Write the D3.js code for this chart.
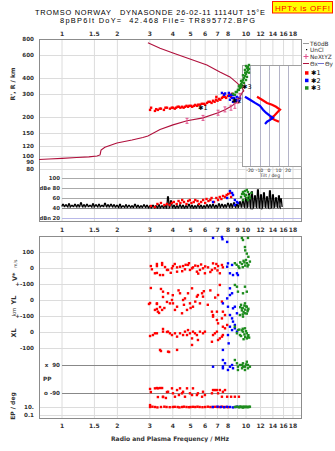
<!DOCTYPE html>
<html><head><meta charset="utf-8">
<script src="https://cdn.jsdelivr.net/npm/d3@7"></script>
<style>body{margin:0;background:#fff}svg{display:block}text{font-family:"DejaVu Sans",sans-serif;white-space:pre}</style>
</head><body><svg id="c" width="335" height="451"></svg>
<script>
// ---------------- DATA ----------------
const freqTicksTop = [1,1.5,2,3,4,5,6,7,8,10,12,14,16,18];
const freqTicksMid = [1,1.5,2,3,4,5,6,7,8,9,10,12,14,16,18];
const freqGrid = [1,1.5,2,3,4,5,6,7,8,9,10,12,14,16,18];
const heightTicks = [800,600,400,300,200,150,120,100,90,80];
const dbTicks = [100,80,60,40,20];
const tiltTicks = [-20,-10,0,10,20];

// real-height profile (MHz, km)
const profile = [[0.75,94],[0.85,95],[1.0,96],[1.2,97.5],[1.4,98.5],[1.55,100],[1.61,102],[1.63,111],[1.71,117],[1.99,126],[2.4,133],[2.75,139],[2.93,143],[3.41,160],[4.01,174],[4.78,187],[5.84,197],[7.05,216],[7.69,228],[8.4,244],[8.93,262],[9.28,287],[9.55,310],[9.75,318]];
// upper trace
const upperTrace = [[2.93,749],[3.41,680],[4.01,624],[4.96,561],[6.13,505],[7.21,446],[8.18,408],[8.93,367],[9.52,336],[9.75,318]];
// NeXtYZ markers
const nextyz = [[4.78,187],[5.84,197],[7.05,216],[7.68,229],[8.29,236],[8.70,244],[9.04,267],[9.27,291]];

// echoes in the height panel
const echo1 = [[3.01,227],[3.05,236],[3.20,223],[3.25,230],[3.32,227],[3.40,232],[3.45,232],[3.58,227],[3.65,236],[3.72,236],[3.86,232],[3.95,236],[4.01,236],[4.10,232],[4.17,236],[4.25,240],[4.32,240],[4.40,236],[4.49,240],[4.58,236],[4.66,240],[4.75,244],[4.84,240],[4.92,244],[5.02,244],[5.10,240],[5.21,244],[5.30,248],[5.41,244],[5.50,249],[5.62,249],[5.75,253],[5.91,253],[6.0,249],[6.14,257],[6.25,262],[6.37,262],[6.5,257],[6.62,267],[6.75,262],[6.87,272],[7.0,267],[7.13,276],[7.25,272],[7.40,281],[7.5,286],[7.69,286],[7.8,281],[7.98,291],[8.1,297],[8.29,286],[8.4,302],[6.9,286],[7.6,300]];
const echo2 = [[7.40,307],[7.6,297],[7.7,304],[8.07,307],[8.1,291],[8.18,272],[8.29,297],[8.4,281],[8.5,297],[8.6,281],[8.7,272],[8.8,267],[8.93,272],[9.04,281],[9.15,267],[8.5,262],[8.9,286],[9.27,281]];
const echo3 = [[8.70,297],[8.93,312],[9.04,324],[9.27,336],[9.27,350],[9.40,360],[9.52,374],[9.63,386],[9.75,400],[9.87,415],[10.0,430],[10.1,446],[10.25,462],[10.25,486],[10.38,504],[10.0,386],[9.75,367],[10.12,408],[9.52,350],[9.15,324],[8.8,312],[8.5,302],[9.87,462],[10.12,478],[9.4,340],[9.9,440],[9.63,420],[9.4,380],[10.38,470],[9.15,345],[10.0,495],[10.38,440]];

// tilt inset (deg, km)
const tilt1 = [[-12.6,287],[-7.4,272],[-2.1,257],[3.2,249],[7.4,240],[11.6,228],[8.4,216],[5.3,204],[2.1,197],[6.3,190],[10.5,184]];
const tilt2 = [[-25.3,287],[-20,272],[-14.7,257],[-9.5,244],[-6.3,228],[-3.2,216],[1.1,204],[4.2,197],[1.1,190],[-2.1,184],[-4.2,177]];

// noise (T60dB trace) in dB panel
const noiseF = [1.013,1.051,1.092,1.133,1.177,1.222,1.268,1.317,1.367,1.420,1.474,1.530,1.589,1.650,1.713,1.778,1.846,
 1.917,1.990,2.066,2.145,2.227,2.313,2.401,2.493,2.588,2.687,2.790,2.897,
 3.008,3.123,3.242,3.366,3.495,3.629,3.767,3.911,4.061,4.216,4.378,4.545,4.719,4.899,5.087,5.281,5.483,5.693,5.911,6.137,
 6.371,6.615,6.868,7.131,7.403,7.686,7.980,8.286,8.602,8.931,9.273,9.627,
 9.995,10.38,10.77,11.19,11.61,12.06,12.52,13.00,13.49,14.01,14.55,15.10,15.48];
const noiseHi = [47,46,48,45,47,46,50,46,47,45,48,46,47,45,49,46,47,
 46,45,47,44,46,45,44,47,45,44,46,45,
 44,45,44,46,44,45,62,54,45,44,46,45,44,47,45,44,46,45,44,46,
 46,47,45,48,47,46,49,48,50,47,52,55,
 60,68,72,64,76,66,70,62,74,66,60,64,58];
const noiseLo = [43,43,42,43,43,42,43,42,43,43,42,43,42,43,43,42,43,
 42,42,41,42,41,42,41,42,41,41,42,41,
 40,41,40,40,41,40,40,41,40,40,41,40,40,41,40,40,41,40,40,41,
 41,41,40,41,42,41,42,41,42,41,42,42,
 41,42,40,42,41,40,42,41,40,41,42,41,42];
const db1 = [[3.04,44],[3.2,42],[3.3,48],[3.45,50],[3.6,46],[3.72,48],[3.85,46],[3.95,50],[4.05,52],[4.2,48],[4.3,54],[4.4,50],[4.5,56],[4.6,52],[4.75,48],[4.85,54],[4.95,56],[5.05,50],[5.2,52],[5.3,56],[5.45,54],[5.55,48],[5.7,52],[5.85,56],[6.0,50],[6.1,58],[6.25,54],[6.4,56],[6.5,60],[6.7,52],[6.9,60],[7.05,56],[7.2,62],[7.35,58],[7.5,64],[7.7,62],[7.85,66],[8.0,68],[8.2,70],[8.3,62]];
const db2 = [[6.62,52],[7.9,60],[8.18,74],[8.4,70],[8.7,56],[8.93,52],[9.04,50],[8.7,46],[8.5,66]];
const db3 = [[9.52,68],[9.63,72],[9.87,74],[10.1,76],[10.25,72],[9.87,64],[10.1,60],[10.5,60],[9.63,56],[10.25,56],[10.7,70],[9.75,68],[10.0,66],[10.4,64],[9.4,62]];

// lower panel echoes: V* (m/s), YL (km), XL (km), PP (deg), EP (deg)
const vRed = [[3.04,12],[3.08,-8],[3.2,-33],[3.28,12],[3.28,25],[3.28,-31],[3.41,-44],[3.5,19],[3.5,31],[3.54,-44],[3.63,6],[3.72,-12],[3.77,-12],[3.9,-30],[3.96,-2],[4.01,12],[4.1,25],[4.22,4],[4.22,-23],[4.38,8],[4.5,-20],[4.55,12],[4.66,-8],[4.7,20],[4.84,19],[4.9,30],[4.96,-12],[5.09,-2],[5.15,4],[5.3,15],[5.41,-23],[5.48,12],[5.5,-35],[5.62,-12],[5.7,22],[5.84,-2],[5.98,-33],[6.0,10],[6.22,4],[6.4,-25],[6.53,-12],[6.62,29],[6.78,-2],[6.9,25],[7.0,-15],[7.05,12],[7.21,-33],[7.40,19],[7.49,4]];
const vBlue = [[6.62,188],[7.4,194],[7.45,180],[7.9,163],[7.9,8],[7.98,29],[8.18,-33],[8.4,19],[8.5,-44],[8.93,-33],[9.04,-44]];
const vGreen = [[8.7,30],[8.9,20],[9.1,10],[9.2,0],[9.3,35],[9.5,25],[9.5,188],[9.6,5],[9.63,175],[9.7,45],[9.8,35],[9.87,131],[9.9,15],[9.9,110],[10.0,50],[10.1,30],[10.1,90],[10.2,10],[10.25,188],[10.3,20],[10.3,70],[10.5,40]];
const ylRed = [[2.97,-25],[3.01,-19],[3.04,75],[3.2,-62],[3.28,-21],[3.28,-25],[3.28,-56],[3.32,-73],[3.37,-81],[3.41,-44],[3.45,69],[3.5,-62],[3.54,19],[3.54,52],[3.6,-50],[3.72,-12],[3.77,42],[3.86,-21],[3.96,0],[4.0,30],[4.01,-21],[4.11,-62],[4.22,-42],[4.3,60],[4.38,42],[4.49,-83],[4.55,0],[4.6,-30],[4.66,10],[4.78,-62],[4.84,42],[4.96,-21],[5.0,-50],[5.09,73],[5.15,-42],[5.3,-10],[5.41,21],[5.48,31],[5.62,-21],[5.77,42],[5.84,21],[5.9,55],[6.2,-30],[6.4,60],[6.53,-73],[6.62,-94],[6.8,15],[6.95,-73],[7.05,31],[7.21,94],[7.40,-10],[7.49,-73],[7.69,-94]];
const ylBlue = [[7.49,-21],[7.9,10],[7.98,-42],[8.18,73],[8.18,31],[8.18,-94],[8.4,42],[8.5,-52],[8.7,-42],[8.93,-83]];
const ylGreen = [[8.7,94],[8.93,83],[9.87,83],[10.1,52],[9.04,52],[9.63,42],[9.87,-21],[10.1,-42],[9.52,-52],[9.87,-83],[10.25,-62],[9.27,-94],[9.4,-30],[9.6,-50],[9.9,-60],[10.0,-40],[10.2,-70],[9.7,-75],[9.5,-65],[10.1,-85],[9.8,-35],[9.3,-45],[10.3,-55],[9.6,-90]];
const xlRed = [[3.01,-25],[3.12,-19],[3.2,-8],[3.28,-8],[3.41,-112],[3.45,-119],[3.54,19],[3.54,2],[3.72,0],[3.77,2],[3.77,-123],[3.82,-125],[3.86,-8],[3.96,-19],[4.11,-8],[4.22,-29],[4.22,-112],[4.38,-8],[4.55,-19],[4.66,2],[4.78,-19],[4.84,12],[4.96,-8],[5.09,-40],[5.09,-81],[5.15,2],[5.28,-8],[5.41,-19],[5.48,-50],[5.62,2],[5.84,-8],[5.98,2],[6.53,-61],[6.62,-19],[6.62,96],[6.78,-8],[6.95,2],[6.95,75],[7.05,-50],[7.05,54],[7.21,-40],[7.40,-29],[7.40,85],[7.49,-19],[7.49,33],[7.69,23],[7.9,44]];
const xlBlue = [[7.49,-112],[7.98,-19],[8.05,-71],[8.18,33],[8.4,85],[8.4,12],[8.5,65],[8.7,44],[8.7,23],[8.93,2]];
const xlGreen = [[8.7,33],[9.04,12],[9.63,2],[10.1,-8],[10.25,-29],[9.87,23],[8.93,-8],[9.27,-19],[10.1,-40],[9.5,10],[9.8,-15],[10.0,5],[9.4,-25],[10.3,-20],[9.6,20],[9.9,-30],[9.2,15],[10.4,-35],[9.7,-45],[9.63,96]];
const ppRed = [[3.01,-64],[3.04,-84],[3.2,-60],[3.28,-58],[3.32,-60],[3.32,-116],[3.41,-58],[3.5,-58],[3.54,-116],[3.54,-114],[3.67,-122],[3.72,-84],[3.77,-82],[3.96,-60],[4.01,-92],[4.11,-114],[4.22,-71],[4.32,-103],[4.38,-60],[4.49,-92],[4.55,-82],[4.66,-114],[4.78,-60],[4.96,-92],[5.09,-103],[5.15,-60],[5.41,-103],[5.48,-92],[5.77,-114],[5.84,-82],[5.98,-103],[6.53,-92],[6.62,-71],[6.78,-71],[6.95,-71],[7.05,-92],[7.21,-71],[7.4,-114],[7.49,-82],[7.69,-71],[7.9,-114],[8.3,-114],[8.7,-114],[9.15,-114]];
const ppBlue = [[6.62,79],[7.49,122],[7.49,69],[7.49,81],[7.69,101],[7.98,58],[8.18,79],[8.4,90],[8.5,69]];
const ppGreen = [[8.7,122],[8.93,101],[9.04,79],[9.04,58],[9.27,90],[9.52,69],[9.52,90],[9.63,101],[9.63,79],[9.87,79],[9.87,58],[10.0,94],[10.1,90],[10.1,111],[10.25,69],[10.25,90],[10.5,79]];
const epRed = [[3.01,10],[3.01,30],[3.1,12],[3.2,10],[3.3,8],[3.45,10],[3.6,12],[3.7,10],[3.85,9],[4.0,10],[4.1,11],[4.25,10],[4.35,8],[4.5,10],[4.6,12],[4.75,10],[4.9,9],[5.0,10],[5.15,11],[5.3,10],[5.45,12],[5.6,10],[5.8,9],[6.0,10],[6.2,12],[6.4,10],[6.6,10],[6.8,11],[7.0,10],[7.2,10],[7.4,12],[7.6,10],[7.8,10],[8.0,9]];
const epBlue = [[6.6,10],[7.0,12],[7.3,10],[7.6,9],[7.9,11],[8.2,10],[8.5,8],[8.8,10],[9.0,12]];
const epGreen = [[8.7,10],[8.9,12],[9.1,10],[9.2,8],[9.3,13],[9.4,11],[9.5,10],[9.6,7],[9.7,13],[9.8,9],[9.9,10],[10.0,12],[10.1,10],[10.2,9],[10.3,11],[10.4,10],[10.5,12]];

// ---------------- DRAW ----------------
const svg = d3.select('#c');
const L = 39, R = 302;
const x = d3.scaleLog().domain([1,10]).range([62,246]);
const yH = d3.scaleLog().domain([80,800]).range([168.6,39]);
const yDB = d3.scaleLinear().domain([20,100]).range([218,178]);
const yV = d3.scaleLinear().domain([-100,100]).range([284,252]);
const yYL = d3.scaleLinear().domain([-100,100]).range([316,284]);
const yXL = d3.scaleLinear().domain([-100,100]).range([348,316]);
const yPP = d3.scaleLinear().domain([-90,90]).range([393,365]);
const yEP = d3.scaleLog().domain([0.1,10]).range([415,407]);
const xT = d3.scaleLinear().domain([-20,20]).range([250,288]);
const RED='#ff0000', BLUE='#0000ff', GREEN='#1e8c1e', CRIM='#b0103c', PINK='#e0508c';
const fmt = d => String(d);

function txt(g,xx,yy,s,o={}){
  const t=g.append('text').attr('x',xx).attr('y',yy).text(s)
    .attr('font-size',o.size||6).attr('fill',o.fill||'#222')
    .attr('text-anchor',o.anchor||'start').attr('font-weight',o.weight||'normal');
  if(o.family) t.style('font-family',o.family);
  if(o.len) t.attr('textLength',o.len).attr('lengthAdjust',o.adj||'spacingAndGlyphs');
  if(o.rot) t.attr('transform',`rotate(-90,${xx},${yy})`);
  return t;
}
function pts(g,data,xs,ys,color,s=2.4){
  g.selectAll(null).data(data).enter().append('rect')
    .attr('x',d=>xs(d[0])-s/2).attr('y',d=>ys(d[1])-s/2)
    .attr('width',s).attr('height',s).attr('fill',color);
}

// Title
const TF='"Liberation Sans",Arial,sans-serif';
txt(svg,150,14.6,'TROMSO NORWAY   DYNASONDE 26-02-11 1114UT 15°E',{size:7.4,anchor:'middle',len:230,adj:'spacing',fill:'#000',family:TF});
txt(svg,157.5,23.2,'8pBP6It DoY=  42.468 File= TR895772.BPG',{size:7.4,anchor:'middle',len:195,adj:'spacing',fill:'#000',family:TF});
svg.append('rect').attr('x',272.5).attr('y',1.5).attr('width',60).attr('height',11.5).attr('fill','#ffff00').attr('stroke','#ff2000').attr('stroke-width',1);
txt(svg,302.5,10.8,'HPTx is OFF!',{size:8,anchor:'middle',fill:'#ff0000',len:55,adj:'spacing',family:TF});

// ---- upper frame grid
const gU = svg.append('g');
gU.selectAll(null).data(freqGrid).enter().append('line')
  .attr('x1',d=>x(d)).attr('x2',d=>x(d)).attr('y1',39).attr('y2',222).attr('stroke','#dcdcdc').attr('stroke-width',1);
gU.selectAll(null).data(heightTicks).enter().append('line')
  .attr('x1',L).attr('x2',R).attr('y1',d=>Math.round(yH(d))+0.5).attr('y2',d=>Math.round(yH(d))+0.5).attr('stroke','#dcdcdc');
heightTicks.forEach(h=>txt(gU,34,yH(h)+2,fmt(h),{size:5.6,anchor:'end',weight:'bold',fill:'#333'}));
freqTicksTop.forEach(f=>txt(gU,x(f),35.5,fmt(f),{size:6,anchor:'middle',weight:'bold',fill:'#333'}));
txt(gU,15,84,"R', R / km",{size:6.2,anchor:'middle',rot:true,weight:'bold',fill:'#333'});

// dB panel lines
dbTicks.forEach(v=>{
  gU.append('line').attr('x1',62).attr('x2',R).attr('y1',Math.round(yDB(v))+0.5).attr('y2',Math.round(yDB(v))+0.5)
    .attr('stroke', v===20?'#b8b8e8':(v===40?'#888':'#aaa')).attr('stroke-width',1);
  txt(gU,60,yDB(v)+2,String(v),{size:5.4,anchor:'end',weight:'bold',fill:'#333'});
});
txt(gU,39.5,yDB(80)+2,'dBe',{size:5.2,weight:'bold',fill:'#333'});
txt(gU,39.5,yDB(20)+2,'dBn',{size:5.2,weight:'bold',fill:'#333'});

// frame
svg.append('rect').attr('x',L+0.5).attr('y',39.5).attr('width',R-L-1).attr('height',182).attr('fill','none').attr('stroke','#8c8c8c');

// inset
const gI = svg.append('g');
gI.append('rect').attr('x',242.5).attr('y',65.5).attr('width',59).attr('height',101).attr('fill','#fff').attr('stroke','#a0a0a0');
gI.selectAll(null).data(tiltTicks).enter().append('line')
  .attr('x1',d=>Math.round(xT(d))+0.5).attr('x2',d=>Math.round(xT(d))+0.5).attr('y1',66).attr('y2',166).attr('stroke','#b4b4c8');
tiltTicks.forEach(t=>txt(gI,xT(t),171.5,String(t),{size:4.6,anchor:'middle',fill:'#333'}));
txt(gI,270,176.5,'Tilt / deg',{size:4.6,anchor:'middle',fill:'#333'});
const lineT = d3.line().x(d=>xT(d[0])).y(d=>yH(d[1]));
gI.append('path').attr('d',lineT(tilt1)).attr('fill','none').attr('stroke',RED).attr('stroke-width',2.2);
gI.append('path').attr('d',lineT(tilt2)).attr('fill','none').attr('stroke',BLUE).attr('stroke-width',2.2);

// curves
const lineF = d3.line().x(d=>x(d[0])).y(d=>yH(d[1]));
svg.append('path').attr('d',lineF(profile)).attr('fill','none').attr('stroke',CRIM).attr('stroke-width',1.1);
svg.append('path').attr('d',lineF(upperTrace)).attr('fill','none').attr('stroke',CRIM).attr('stroke-width',1.1);

// echoes
pts(svg,echo1,x,yH,RED);
pts(svg,echo2,x,yH,BLUE);
pts(svg,echo3,x,yH,GREEN);
nextyz.forEach(d=>{
  const cx=x(d[0]), cy=yH(d[1]);
  svg.append('path').attr('d',`M${cx-1.5},${cy-2.5}H${cx+1.5}M${cx},${cy-2.5}V${cy+2.5}M${cx-1.5},${cy+2.5}H${cx+1.5}`)
    .attr('stroke',PINK).attr('stroke-width',1).attr('fill','none');
});
txt(svg,198,109.5,'✱1',{size:6.5,fill:'#000'});
txt(svg,232,102.5,'✱2',{size:6.5,fill:'#000'});
txt(svg,242,89,'✱3',{size:6.5,fill:'#000'});

// noise: jagged trace between low and high readings
let nd='';
noiseF.forEach((f,i)=>{
  const cx=x(f);
  nd += (i?'L':'M')+(cx-1.2)+','+yDB(noiseLo[i])+'L'+(cx-0.4)+','+yDB(noiseHi[i])+'L'+(cx+0.4)+','+yDB(noiseHi[i])+'L'+(cx+1.2)+','+yDB(noiseLo[i]);
});
svg.append('path').attr('d',nd).attr('fill','none').attr('stroke','#000').attr('stroke-width',1.3);
pts(svg,db1,x,yDB,RED);
pts(svg,db2,x,yDB,BLUE);
pts(svg,db3,x,yDB,GREEN);

freqTicksMid.forEach(f=>txt(svg,x(f),232.3,fmt(f),{size:6,anchor:'middle',weight:'bold',fill:'#333'}));

// legend
const gL = svg.append('g');
gL.append('line').attr('x1',303).attr('x2',309).attr('y1',43.5).attr('y2',43.5).attr('stroke','#999');
txt(gL,310,45.5,'T60dB',{size:5.8,fill:'#333'});
gL.append('rect').attr('x',306).attr('y',49).attr('width',1.2).attr('height',1.2).attr('fill','#000');
txt(gL,310,52,'UnCl',{size:5.8,fill:'#333'});
gL.append('path').attr('d','M303.5,56.5H308.5M306,54V59').attr('stroke',PINK).attr('fill','none');
txt(gL,310,58.5,'NeXtYZ',{size:5.8,fill:'#333'});
gL.append('line').attr('x1',303).attr('x2',309).attr('y1',63.5).attr('y2',63.5).attr('stroke',CRIM);
txt(gL,310,65.5,'Θx',{size:5.8,fill:'#333'});
gL.append('line').attr('x1',318).attr('x2',324).attr('y1',63.5).attr('y2',63.5).attr('stroke','#7070d0');
txt(gL,325,65.5,'Θy',{size:5.8,fill:'#333'});
[[RED,'✱1',73],[BLUE,'✱2',80.5],[GREEN,'✱3',88]].forEach(([c,s,yy])=>{
  gL.append('rect').attr('x',305).attr('y',yy-1.8).attr('width',3.5).attr('height',3.5).attr('fill',c);
  txt(gL,311,yy+2.3,s,{size:6.5,fill:'#000'});
});

// ---- lower panel
const gB = svg.append('g');
gB.selectAll(null).data(freqGrid).enter().append('line')
  .attr('x1',d=>x(d)).attr('x2',d=>x(d)).attr('y1',236).attr('y2',419).attr('stroke','#dcdcdc');
const hl = [[yV,100],[yV,0],[yV,-100],[yYL,0],[yYL,-100],[yXL,0],[yXL,-100],[yEP,10],[yEP,0.1]];
hl.forEach(([s,v])=>gB.append('line').attr('x1',L).attr('x2',R).attr('y1',Math.round(s(v))+0.5).attr('y2',Math.round(s(v))+0.5).attr('stroke','#dcdcdc'));
[90,-90].forEach(v=>gB.append('line').attr('x1',62).attr('x2',R).attr('y1',Math.round(yPP(v))+0.5).attr('y2',Math.round(yPP(v))+0.5).attr('stroke','#888'));
gB.append('rect').attr('x',L+0.5).attr('y',236.5).attr('width',R-L-1).attr('height',182).attr('fill','none').attr('stroke','#8c8c8c');
const lab = (yy,s)=>txt(gB,34,yy+2,s,{size:5.6,anchor:'end',weight:'bold',fill:'#333'});
lab(yV(100),'100'); lab(yV(0),'0'); lab(yV(-100),'+-100');
lab(yYL(0),'0'); lab(yYL(-100),'+-100');
lab(yXL(0),'0'); lab(yXL(-100),'-100');
lab(yEP(10),'10.'); lab(yEP(0.1),'0.1');
txt(gB,60,yPP(90)+2,'x  90',{size:5.6,anchor:'end',weight:'bold',fill:'#333'});
txt(gB,60,yPP(-90)+2,'o -90',{size:5.6,anchor:'end',weight:'bold',fill:'#333'});
txt(gB,43,381,'PP',{size:5.8,weight:'bold',fill:'#333'});
txt(gB,17,281,'V*',{size:6.5,rot:true,weight:'bold',fill:'#333'});
txt(gB,17,268,'m/s',{size:4.6,rot:true,fill:'#333'});
txt(gB,16,300,'YL',{size:6.5,rot:true,anchor:'middle',weight:'bold',fill:'#333'});
txt(gB,16,312,'km',{size:5.5,rot:true,anchor:'middle',fill:'#333'});
txt(gB,16,333,'XL',{size:6.5,rot:true,anchor:'middle',weight:'bold',fill:'#333'});
txt(gB,15,406,'EP / deg',{size:6,rot:true,anchor:'middle',weight:'bold',fill:'#333'});

pts(gB,vRed,x,yV,RED); pts(gB,vBlue,x,yV,BLUE); pts(gB,vGreen,x,yV,GREEN);
pts(gB,ylRed,x,yYL,RED); pts(gB,ylBlue,x,yYL,BLUE); pts(gB,ylGreen,x,yYL,GREEN);
pts(gB,xlRed,x,yXL,RED); pts(gB,xlBlue,x,yXL,BLUE); pts(gB,xlGreen,x,yXL,GREEN);
pts(gB,ppRed,x,yPP,RED); pts(gB,ppBlue,x,yPP,BLUE); pts(gB,ppGreen,x,yPP,GREEN);
pts(gB,epRed,x,yEP,RED); pts(gB,epBlue,x,yEP,BLUE); pts(gB,epGreen,x,yEP,GREEN);

freqTicksTop.forEach(f=>txt(gB,x(f),428,fmt(f),{size:6,anchor:'middle',weight:'bold',fill:'#333'}));
txt(gB,170,441,'Radio and Plasma Frequency / MHz',{size:6.2,anchor:'middle',weight:'bold',fill:'#333',len:118});
</script></body></html>
